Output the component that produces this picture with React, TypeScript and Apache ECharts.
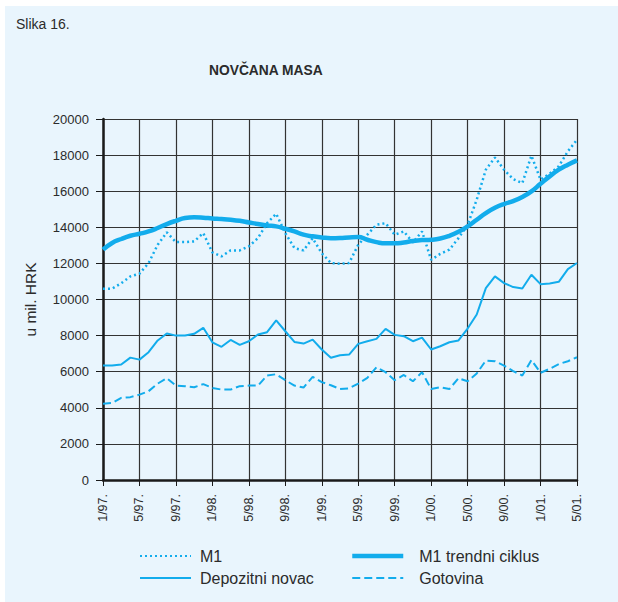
import React, { useEffect, useRef } from "react";
import * as echarts from "echarts";

const months: string[] = [];
for (let y = 97; y <= 101; y++) {
  for (let m = 1; m <= 12; m++) {
    if (y === 101 && m > 5) break;
    months.push(`${m}/${String(y % 100).padStart(2, "0")}.`);
  }
}

const m1 = [
  10600, 10600, 10900, 11280, 11430, 12020, 13030, 13720, 13180, 13180, 13220, 13680, 12610, 12390,
  12720, 12720, 12940, 13400, 14230, 14750, 13680, 12850, 12720, 13400, 12570, 12020, 11980, 12020,
  13030, 13590, 14140, 14230, 13590, 13770, 13160, 13770, 12200, 12530, 12760, 13400, 14140, 15530,
  17190, 17870, 17190, 16670, 16450, 17970, 16640, 16970, 17380, 18210, 18850,
];
const m1Trend = [
  12760, 13130, 13350, 13530, 13640, 13770, 13960, 14180, 14360, 14510, 14550, 14530, 14490, 14460,
  14420, 14360, 14270, 14180, 14100, 14050, 13920, 13770, 13590, 13500, 13440, 13400, 13410, 13440,
  13460, 13310, 13180, 13110, 13110, 13160, 13240, 13290, 13310, 13380, 13530, 13750, 14050, 14420,
  14790, 15080, 15290, 15450, 15680, 15990, 16410, 16820, 17190, 17470, 17710,
];
const depozitni = [
  6340, 6340, 6400, 6780, 6670, 7080, 7730, 8120, 8000, 8000, 8100, 8430, 7630, 7380, 7760, 7490,
  7690, 8060, 8190, 8840, 8240, 7650, 7560, 7780, 7230, 6770, 6910, 6950, 7540, 7690, 7820, 8370,
  8040, 7970, 7690, 7890, 7230, 7410, 7630, 7730, 8390, 9170, 10630, 11280, 10910, 10690, 10610,
  11370, 10850, 10890, 10980, 11680, 12020,
];
const gotovina = [
  4230, 4270, 4550, 4590, 4730, 4920, 5340, 5640, 5230, 5200, 5140, 5310, 5100, 5010, 5010, 5200,
  5230, 5230, 5790, 5860, 5530, 5230, 5120, 5710, 5420, 5250, 5040, 5080, 5340, 5660, 6250, 5970,
  5530, 5820, 5470, 5970, 5040, 5140, 5040, 5640, 5470, 5900, 6620, 6580, 6340, 6030, 5790, 6640,
  5940, 6160, 6420, 6580, 6800,
];

const COLOR = "#12acec";
const TEXT = "#2b2b2b";
const FONT = "'Liberation Sans', Arial, Helvetica, sans-serif";

export default function App() {
  const ref = useRef<HTMLDivElement>(null);
  useEffect(() => {
    if (!ref.current) return;
    const chart = echarts.init(ref.current, null, { renderer: "svg" });
    const legendBase = {
      orient: "vertical",
      top: 548,
      padding: 0,
      itemWidth: 51,
      itemHeight: 16,
      itemGap: 6,
      itemStyle: { opacity: 0 },
    };
    const legendText = (pad: number) => ({
      fontSize: 16,
      fontWeight: "normal",
      color: TEXT,
      fontFamily: FONT,
      padding: [0, 0, 0, pad],
    });
    chart.setOption({
      animation: false,
      textStyle: { fontFamily: FONT, color: TEXT },
      graphic: [
        {
          type: "rect",
          z: -10,
          silent: true,
          shape: { x: 5, y: 6, width: 613, height: 596 },
          style: { fill: "#e9f5fd" },
        },
      ],
      title: [
        {
          text: "Slika 16.",
          left: 16,
          top: 17,
          padding: 0,
          textStyle: { fontSize: 14, fontWeight: "normal", color: TEXT, fontFamily: FONT },
        },
        {
          text: "NOVČANA MASA",
          left: 209,
          top: 63,
          padding: 0,
          textStyle: { fontSize: 13.8, fontWeight: "bold", color: TEXT, fontFamily: FONT },
        },
      ],
      legend: [
        {
          ...legendBase,
          data: ["M1", "Depozitni novac"],
          left: 139,
          textStyle: legendText(4),
        },
        {
          ...legendBase,
          data: [
            { name: "M1 trendni ciklus", lineStyle: { width: 4.5 }, textStyle: legendText(11) },
            { name: "Gotovina", textStyle: legendText(11) },
          ],
          left: 350,
          textStyle: legendText(11),
        },
      ],
      grid: { left: 103, right: 41, top: 119, bottom: 122, containLabel: false },
      xAxis: {
        type: "category",
        data: months,
        boundaryGap: false,
        axisLine: { show: true, lineStyle: { color: "#1a1a1a", width: 2.5 } },
        axisTick: { show: true, interval: 3, length: 6, lineStyle: { color: "#1a1a1a", width: 1 } },
        axisLabel: {
          interval: 3,
          rotate: 90,
          margin: 14,
          fontSize: 12.5,
          color: TEXT,
          fontFamily: FONT,
        },
        splitLine: { show: true, interval: 3, lineStyle: { color: "#333", width: 1.2 } },
      },
      yAxis: {
        type: "value",
        min: 0,
        max: 20000,
        interval: 2000,
        name: "u mil. HRK",
        nameLocation: "middle",
        nameRotate: 90,
        nameGap: 65,
        nameTextStyle: { fontSize: 15.5, color: TEXT, fontFamily: FONT },
        axisLine: { show: true, lineStyle: { color: "#1a1a1a", width: 2.5 } },
        axisTick: { show: true, length: 7, lineStyle: { color: "#1a1a1a", width: 1 } },
        axisLabel: {
          margin: 14,
          fontSize: 13,
          color: TEXT,
          fontFamily: FONT,
          formatter: (v: number) => String(v),
        },
        splitLine: { show: true, lineStyle: { color: "#333", width: 1.2 } },
      },
      series: [
        {
          name: "M1",
          type: "line",
          data: m1,
          symbol: "none",
          z: 3,
          lineStyle: { color: COLOR, width: 2.5, type: [2, 3] },
          itemStyle: { color: COLOR },
        },
        {
          name: "M1 trendni ciklus",
          type: "line",
          data: m1Trend,
          symbol: "none",
          smooth: true,
          z: 4,
          lineStyle: { color: COLOR, width: 4.5 },
          itemStyle: { color: COLOR },
        },
        {
          name: "Depozitni novac",
          type: "line",
          data: depozitni,
          symbol: "none",
          z: 3,
          lineStyle: { color: COLOR, width: 2 },
          itemStyle: { color: COLOR },
        },
        {
          name: "Gotovina",
          type: "line",
          data: gotovina,
          symbol: "none",
          z: 3,
          lineStyle: { color: COLOR, width: 2, type: [8, 4] },
          itemStyle: { color: COLOR },
        },
      ],
    });
    return () => chart.dispose();
  }, []);
  return (
    <div
      ref={ref}
      style={{ position: "absolute", left: 0, top: 0, width: 618, height: 602 }}
    />
  );
}
